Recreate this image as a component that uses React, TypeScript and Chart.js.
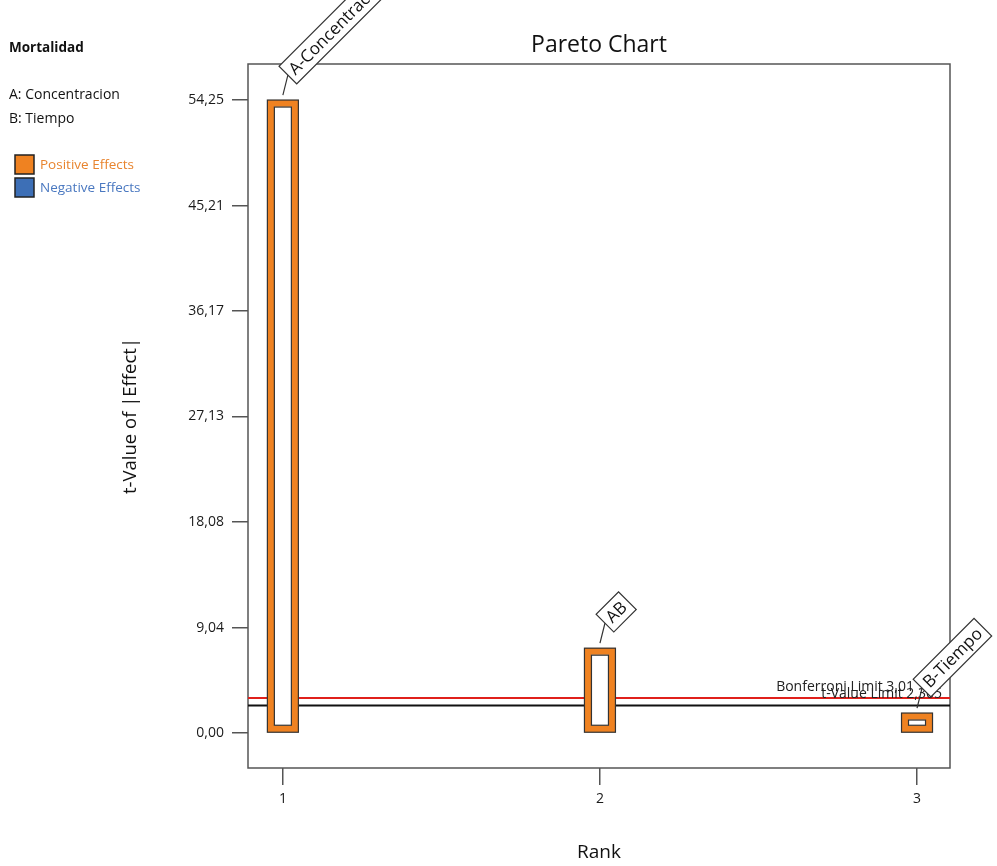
import React, { useEffect, useRef } from 'react';
import { Chart, registerables } from 'chart.js';

Chart.register(...registerables);

// ---- data ----
const ranks = [1, 2, 3];
const termLabels = ['A-Concentracion', 'AB', 'B-Tiempo'];
const tValues = [54.25, 7.27, 1.71];
const yTickValues = [0, 9.04, 18.08, 27.13, 36.17, 45.21, 54.25];
const xTickValues = [1, 2, 3];
const limitNames = ['Bonferroni Limit', 't-Value Limit'];
const limitValues = [3.01, 2.365];
const responseName = 'Mortalidad';
const factorLines = ['A: Concentracion', 'B: Tiempo'];
const legendItems = ['Positive Effects', 'Negative Effects'];

const FONT = '"Open Sans", "Noto Sans", sans-serif';
const ORANGE = '#EF8221';
const BLUE = '#3D6FB6';
const DARK = '#333333';

const fmtComma = (v: number, d?: number) =>
  (d === undefined ? String(v) : v.toFixed(d)).replace('.', ',');

const decor = {
  id: 'decor',
  beforeDatasetsDraw(chart: any) {
    const { ctx, chartArea: a, scales } = chart;
    const y = scales.y;
    ctx.save();
    ctx.strokeStyle = '#555';
    ctx.lineWidth = 1.5;
    ctx.strokeRect(a.left, a.top, a.right - a.left, a.bottom - a.top);
    limitValues.forEach((v, i) => {
      const py = y.getPixelForValue(v);
      ctx.strokeStyle = i === 0 ? '#E0201B' : '#111';
      ctx.lineWidth = 2;
      ctx.beginPath();
      ctx.moveTo(a.left, py);
      ctx.lineTo(a.right, py);
      ctx.stroke();
    });
    ctx.restore();
  },
  afterDatasetsDraw(chart: any) {
    const { ctx, chartArea: a, scales } = chart;
    const y = scales.y;
    const meta = chart.getDatasetMeta(0);
    const bw = 7;
    ctx.save();
    meta.data.forEach((bar: any) => {
      const p = bar.getProps(['x', 'y', 'base', 'width'], true);
      const left = p.x - p.width / 2;
      ctx.strokeStyle = DARK;
      ctx.lineWidth = 1.2;
      ctx.strokeRect(left, p.y, p.width, p.base - p.y);
      const ih = p.base - p.y - 2 * bw;
      if (ih > 0) ctx.strokeRect(left + bw, p.y + bw, p.width - 2 * bw, ih);
    });
    ctx.font = `14px ${FONT}`;
    ctx.fillStyle = '#222';
    ctx.textAlign = 'right';
    ctx.textBaseline = 'alphabetic';
    limitValues.forEach((v, i) => {
      const py = y.getPixelForValue(v);
      const rx = a.right - (i === 0 ? 36 : 8);
      ctx.fillText(`${limitNames[i]} ${fmtComma(v)}`, rx, py - 7);
    });
    meta.data.forEach((bar: any, i: number) => {
      const p = bar.getProps(['x', 'y'], true);
      const sx = p.x, sy = p.y - 5;
      const ax = p.x + 5, ay = p.y - 25;
      ctx.strokeStyle = DARK;
      ctx.lineWidth = 1.2;
      ctx.beginPath();
      ctx.moveTo(sx, sy);
      ctx.lineTo(ax, ay);
      ctx.stroke();
      ctx.save();
      ctx.translate(ax, ay);
      ctx.rotate(-Math.PI / 4);
      ctx.font = `17px ${FONT}`;
      const w = ctx.measureText(termLabels[i]).width + 10;
      const h = 25;
      ctx.fillStyle = '#fff';
      ctx.fillRect(0, -h / 2, w, h);
      ctx.strokeRect(0, -h / 2, w, h);
      ctx.fillStyle = '#111';
      ctx.textAlign = 'left';
      ctx.textBaseline = 'middle';
      ctx.fillText(termLabels[i], 5, 1);
      ctx.restore();
    });
    ctx.restore();
  },
  afterDraw(chart: any) {
    const { ctx, chartArea: a } = chart;
    ctx.save();
    const cx = (a.left + a.right) / 2;
    ctx.fillStyle = '#111';
    ctx.textAlign = 'center';
    ctx.textBaseline = 'middle';
    ctx.font = `23px ${FONT}`;
    ctx.fillText('Pareto Chart', cx, 45);
    ctx.font = `19px ${FONT}`;
    ctx.fillText('Rank', cx, 853);
    ctx.save();
    ctx.translate(131, (a.top + a.bottom) / 2);
    ctx.rotate(-Math.PI / 2);
    ctx.font = `18.5px ${FONT}`;
    ctx.fillText('t-Value of |Effect|', 0, 0);
    ctx.restore();

    ctx.textAlign = 'left';
    ctx.font = `bold 13.5px ${FONT}`;
    ctx.fillText(responseName, 9, 48);
    ctx.font = `14px ${FONT}`;
    factorLines.forEach((t, i) => ctx.fillText(t, 9, 95 + i * 24));
    const colors = [ORANGE, BLUE];
    const textColors = ['#E8842E', '#4A78C0'];
    ctx.font = `13.5px ${FONT}`;
    legendItems.forEach((t, i) => {
      const top = 155 + i * 23;
      ctx.fillStyle = colors[i];
      ctx.fillRect(15, top, 19, 19);
      ctx.strokeStyle = '#222';
      ctx.lineWidth = 1.5;
      ctx.strokeRect(15, top, 19, 19);
      ctx.fillStyle = textColors[i];
      ctx.fillText(t, 40, top + 10);
    });
    ctx.restore();
  },
};

export default function App() {
  const ref = useRef<HTMLCanvasElement | null>(null);
  useEffect(() => {
    if (!ref.current) return;
    const tickFont = { family: FONT, size: 14 };
    const chart = new Chart(ref.current, {
      type: 'bar',
      data: {
        datasets: [
          {
            data: ranks.map((r, i) => ({ x: r, y: tValues[i] })),
            backgroundColor: '#ffffff',
            borderColor: ORANGE,
            borderWidth: 7,
            borderSkipped: false,
            barThickness: 31,
          } as any,
        ],
      },
      options: {
        responsive: false,
        maintainAspectRatio: false,
        animation: false,
        layout: { padding: { top: 64, right: 47, left: 0, bottom: 0 } },
        plugins: {
          legend: { display: false },
          tooltip: { enabled: false },
          title: { display: false },
        },
        scales: {
          x: {
            type: 'linear',
            min: 0.89,
            max: 3.104,
            offset: false,
            afterBuildTicks: (s: any) => {
              s.ticks = xTickValues.map((v) => ({ value: v }));
            },
            afterFit: (s: any) => {
              s.height = 98;
            },
            grid: { offset: false, drawOnChartArea: false, drawTicks: true, tickLength: 17, color: '#555', lineWidth: 1.5 },
            border: { display: false },
            ticks: { font: tickFont, color: '#1a1a1a', padding: 6, callback: (v: any) => String(v) },
          },
          y: {
            type: 'linear',
            min: -3,
            max: 57.34,
            afterBuildTicks: (s: any) => {
              s.ticks = yTickValues.map((v) => ({ value: v }));
            },
            afterFit: (s: any) => {
              s.width = 248;
            },
            grid: { drawOnChartArea: false, drawTicks: true, tickLength: 16, color: '#555', lineWidth: 1.5 },
            border: { display: false },
            ticks: { font: tickFont, color: '#1a1a1a', padding: 8, callback: (v: any) => fmtComma(Number(v), 2) },
          },
        } as any,
      },
      plugins: [decor],
    });
    return () => chart.destroy();
  }, []);
  return (
    <div style={{ position: 'absolute', left: 0, top: 0, width: 997, height: 866, background: '#fff' }}>
      <canvas ref={ref} width={997} height={866} style={{ display: 'block' }} />
    </div>
  );
}
